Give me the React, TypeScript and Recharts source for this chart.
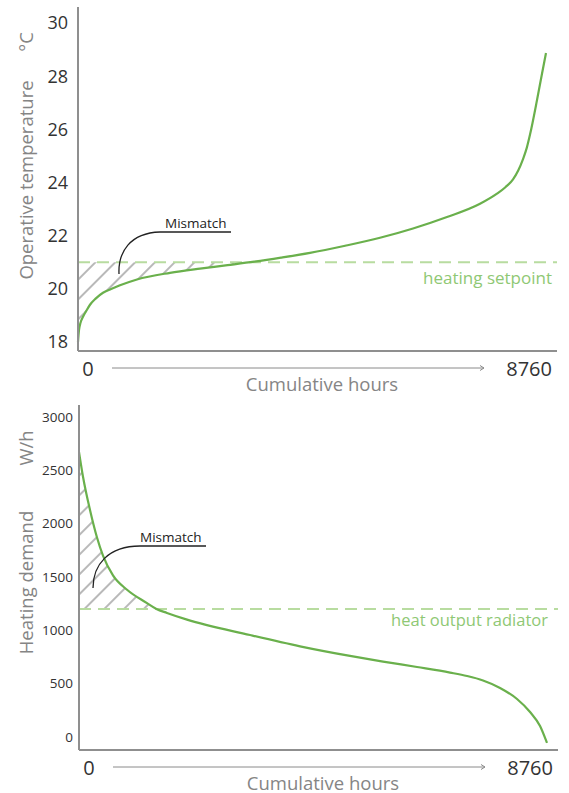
import { ComposedChart, Line, Area, XAxis, YAxis, ReferenceLine } from 'recharts'

const FONT = "'Open Sans', sans-serif"
const GREEN = '#6ab04c'
const DASH_GREEN = '#b8dca0'
const LABEL_GREEN = '#8fc874'
const AXIS_GRAY = '#8f8f8f'
const TEXT_GRAY = '#858585'
const TICK_DARK = '#333333'

const HOURS_END = 8760
const X_MAX = 8966

// operative temperature duration curve (°C)
const tempHours = [
  0, 19, 47, 94, 150, 225, 330, 468, 620, 786, 1104, 1722, 2284, 2800, 3300, 3800, 4343, 5000,
  5653, 6271, 6907, 7525, 7843, 8000, 8143, 8240, 8330, 8400, 8461, 8592, 8686, 8760,
]
const tempValues = [
  18.0, 18.45, 18.72, 18.95, 19.15, 19.4, 19.63, 19.85, 19.99, 20.13, 20.35, 20.6, 20.76, 20.89,
  21.02, 21.17, 21.35, 21.62, 21.92, 22.27, 22.7, 23.2, 23.58, 23.82, 24.12, 24.45, 24.88, 25.3,
  25.8, 27.1, 28.1, 28.87,
]
const tempTicks = [18, 20, 22, 24, 26, 28, 30]
const heatingSetpoint = 21
const tempMismatchEnd = 3300

// heating demand duration curve (W/h)
const demandHours = [
  0, 75, 206, 337, 449, 636, 899, 1273, 1450, 1647, 2022, 3201, 4137, 5073, 5691, 6327, 6945,
  7263, 7563, 7881, 8199, 8443, 8630, 8760,
]
const demandValues = [
  2672, 2440, 2128, 1870, 1700, 1515, 1380, 1255, 1200, 1163, 1100, 956, 850, 760, 707, 656, 604,
  572, 530, 460, 356, 234, 103, -56,
]
const demandTicks = [0, 500, 1000, 1500, 2000, 2500, 3000]
const radiatorOutput = 1200
const demandMismatchEnd = 1450

const tempData = tempHours.map((h, i) => ({
  h,
  v: tempValues[i],
  hatch: h <= tempMismatchEnd ? [tempValues[i], heatingSetpoint] : null,
}))

const demandData = demandHours.map((h, i) => ({
  h,
  v: demandValues[i],
  hatch: h <= demandMismatchEnd ? [radiatorOutput, demandValues[i]] : null,
}))

function HoursLabel(props: any) {
  const { x, y, width } = props.viewBox
  const xEnd = x + (width * HOURS_END) / X_MAX
  return (
    <g fontFamily={FONT}>
      <text x={x + 10} y={y + 17} textAnchor="middle" dominantBaseline="central" fontSize={20} fill={TICK_DARK}>
        0
      </text>
      <line x1={x + 34} x2={xEnd - 62} y1={y + 17} y2={y + 17} stroke="#8a8a8a" strokeWidth={1} />
      <path
        d={`M${xEnd - 66} ${y + 14.5} L${xEnd - 62} ${y + 17} L${xEnd - 66} ${y + 19.5}`}
        fill="none"
        stroke="#8a8a8a"
        strokeWidth={1}
      />
      <text x={xEnd + 6} y={y + 17} textAnchor="end" dominantBaseline="central" fontSize={20} fill={TICK_DARK}>
        8760
      </text>
      <text x={x + 244} y={y + 32} textAnchor="middle" dominantBaseline="central" fontSize={18.5} fill={TEXT_GRAY}>
        Cumulative hours
      </text>
    </g>
  )
}

function ValueLabel(props: any) {
  const { title, unit, titleShift, unitShift } = props
  const vb = props.viewBox
  const cx = 25
  const cy = vb.y + vb.height / 2 + titleShift
  const uy = vb.y + unitShift
  return (
    <g fontFamily={FONT} fill={TEXT_GRAY} fontSize={18.5}>
      <text x={cx} y={cy} textAnchor="middle" dominantBaseline="central" transform={`rotate(-90, ${cx}, ${cy})`}>
        {title}
      </text>
      <text x={cx} y={uy} textAnchor="middle" dominantBaseline="central" transform={`rotate(-90, ${cx}, ${uy})`}>
        {unit}
      </text>
    </g>
  )
}

function LineTag(props: any) {
  const { x, y, width } = props.viewBox
  return (
    <text
      x={x + width - props.dx}
      y={y + props.dy}
      textAnchor="end"
      dominantBaseline="central"
      fontFamily={FONT}
      fontSize={props.size}
      fill={LABEL_GREEN}
    >
      {props.text}
    </text>
  )
}

function Hatch() {
  return (
    <defs>
      <pattern id="hatch" width="14" height="14" patternUnits="userSpaceOnUse" patternTransform="rotate(45)">
        <line x1="1" y1="0" x2="1" y2="14" stroke="#8a8a8a" strokeWidth="1.2" />
      </pattern>
    </defs>
  )
}

export default function App() {
  return (
    <div style={{ position: 'relative', width: 569, height: 793, background: '#fff' }}>
      <style>{'body{margin:0}'}</style>

      <ComposedChart width={569} height={395} data={tempData} margin={{ top: 7, right: 12, bottom: 0, left: 0 }}>
        <Hatch />
        <XAxis
          dataKey="h"
          type="number"
          domain={[0, X_MAX]}
          tick={false}
          tickLine={false}
          axisLine={{ stroke: AXIS_GRAY, strokeWidth: 2 }}
          height={44}
          label={<HoursLabel />}
        />
        <YAxis
          type="number"
          domain={[17.66, 30.6]}
          ticks={tempTicks}
          interval={0}
          allowDataOverflow
          width={78}
          tickLine={false}
          tickSize={0}
          tickMargin={10}
          tick={{ fill: TICK_DARK, fontSize: 18, fontFamily: FONT }}
          axisLine={{ stroke: AXIS_GRAY, strokeWidth: 2 }}
          label={<ValueLabel title="Operative temperature" unit="°C" titleShift={1} unitShift={35} />}
        />
        <Area
          dataKey="hatch"
          type="monotone"
          stroke="none"
          fill="url(#hatch)"
          fillOpacity={1}
          isAnimationActive={false}
        />
        <ReferenceLine
          y={heatingSetpoint}
          stroke={DASH_GREEN}
          strokeWidth={2}
          strokeDasharray="12 7"
          label={<LineTag text="heating setpoint" dx={5} dy={15} size={17} />}
        />
        <Line dataKey="v" type="monotone" stroke={GREEN} strokeWidth={2.2} dot={false} isAnimationActive={false} />
      </ComposedChart>

      <ComposedChart width={569} height={398} data={demandData} margin={{ top: 10, right: 11, bottom: 0, left: 0 }}>
        <XAxis
          dataKey="h"
          type="number"
          domain={[0, X_MAX]}
          tick={false}
          tickLine={false}
          axisLine={{ stroke: AXIS_GRAY, strokeWidth: 2 }}
          height={43}
          label={<HoursLabel />}
        />
        <YAxis
          type="number"
          domain={[-122, 3112]}
          ticks={demandTicks}
          interval={0}
          allowDataOverflow
          width={79}
          tickLine={false}
          tickSize={0}
          tickMargin={6}
          tick={{ fill: TICK_DARK, fontSize: 13.5, fontFamily: FONT }}
          axisLine={{ stroke: AXIS_GRAY, strokeWidth: 2 }}
          label={<ValueLabel title="Heating demand" unit="W/h" titleShift={5} unitShift={43} />}
        />
        <Area
          dataKey="hatch"
          type="monotone"
          stroke="none"
          fill="url(#hatch)"
          fillOpacity={1}
          isAnimationActive={false}
        />
        <ReferenceLine
          y={radiatorOutput}
          stroke={DASH_GREEN}
          strokeWidth={2}
          strokeDasharray="12 7"
          label={<LineTag text="heat output radiator" dx={10} dy={11} size={16.5} />}
        />
        <Line dataKey="v" type="monotone" stroke={GREEN} strokeWidth={2.2} dot={false} isAnimationActive={false} />
      </ComposedChart>

      <svg
        width={569}
        height={793}
        style={{ position: 'absolute', left: 0, top: 0, pointerEvents: 'none' }}
        fontFamily={FONT}
      >
        <path d="M119 274 C118 252, 130 233, 160 232 L231 232" fill="none" stroke="#222" strokeWidth={1.3} />
        <text x={165} y={228} fontSize={13.5} fill="#222">
          Mismatch
        </text>
        <path d="M93 588 C93 565, 108 546, 140 546 L206 546" fill="none" stroke="#222" strokeWidth={1.3} />
        <text x={140} y={542} fontSize={13.5} fill="#222">
          Mismatch
        </text>
      </svg>
    </div>
  )
}
